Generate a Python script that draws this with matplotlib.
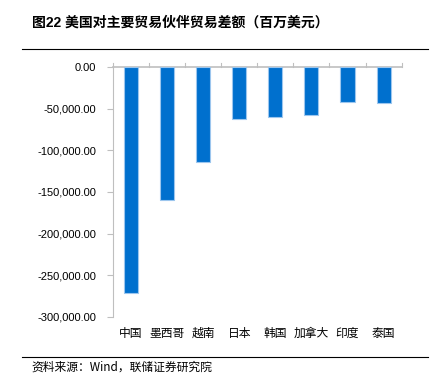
import matplotlib.pyplot as plt
from matplotlib.ticker import FuncFormatter
from matplotlib.lines import Line2D

# 国家及贸易差额（百万美元）
countries = ['中国', '墨西哥', '越南', '日本', '韩国', '加拿大', '印度', '泰国']
balance = [-271700, -160200, -114600, -62300, -60300, -57100, -42000, -42700]
y_ticks = [0, -50000, -100000, -150000, -200000, -250000, -300000]

cjk = ['Noto Sans CJK SC', 'DejaVu Sans']
num_font = 'Liberation Sans'

fig = plt.figure(figsize=(4.37, 3.77), dpi=100)
ax = fig.add_axes([0.2586, 0.1592, 0.6604, 0.6631])

x = list(range(len(countries)))
ax.bar(x, balance, width=0.39, color='#0070CE', edgecolor='#9CC6EE', linewidth=0.8, zorder=2)

ax.set_xlim(-0.5, len(countries) - 0.5)
ax.set_ylim(-300000, 0)
ax.set_yticks(y_ticks)
ax.yaxis.set_major_formatter(FuncFormatter(lambda v, p: f'{v:,.2f}'))
for lab in ax.get_yticklabels():
    lab.set_fontfamily(num_font)
    lab.set_fontsize(8)
ax.tick_params(axis='y', length=4, color='#BFBFBF', pad=8, labelcolor='black')

# 横轴类别标签放在底部
ax.set_xticks(x)
ax.set_xticklabels(countries, family=cjk, fontsize=8.5)
ax.tick_params(axis='x', length=0, pad=7)

for s in ['top', 'right', 'bottom']:
    ax.spines[s].set_visible(False)
ax.spines['left'].set_color('#BFBFBF')
ax.spines['left'].set_linewidth(0.8)

# 零轴线及分隔刻度
ax.axhline(0, color='#BFBFBF', linewidth=1.2, zorder=1, clip_on=False)
for b in range(len(countries) + 1):
    ax.plot([b - 0.5, b - 0.5], [0, 5000], color='#BFBFBF', linewidth=0.8, clip_on=False)

# 标题与横线
fig.text(0.073, 0.94, '图22 美国对主要贸易伙伴贸易差额（百万美元）',
         family=['Liberation Sans', 'Noto Sans CJK SC'], fontsize=10, fontweight='bold', va='center')
fig.add_artist(Line2D([0.05, 0.98], [0.87, 0.87], color='black', linewidth=0.8))
fig.add_artist(Line2D([0.05, 0.98], [0.053, 0.053], color='black', linewidth=0.8))
fig.text(0.073, 0.027, '资料来源：Wind，联储证券研究院',
         family=['Noto Sans CJK SC', 'DejaVu Sans'], fontsize=8.5, va='center')

fig.savefig('out.png', dpi=100)
